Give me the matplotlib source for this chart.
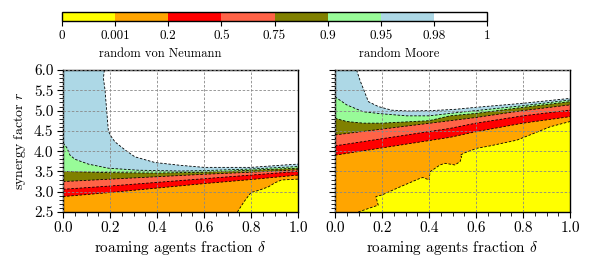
import numpy as np
import matplotlib
matplotlib.use("Agg")
import matplotlib.pyplot as plt
from matplotlib.colors import ListedColormap, BoundaryNorm
from matplotlib.colorbar import ColorbarBase
from matplotlib.ticker import MultipleLocator

plt.rcParams['font.family'] = ['cmr10', 'DejaVu Serif']
plt.rcParams['mathtext.fontset'] = 'cm'
plt.rcParams['axes.formatter.use_mathtext'] = True

# colour levels
levels = [0, 0.001, 0.2, 0.5, 0.75, 0.9, 0.95, 0.98, 1]
level_labels = ['0', '0.001', '0.2', '0.5', '0.75', '0.9', '0.95', '0.98', '1']
colors = ['#ffff00', '#ffa500', '#ff0000', '#ff6347', '#808000', '#98fb98', '#add8e6', '#ffffff']

# random von Neumann: boundaries (delta, r)
vn_d_0001 = [0.742, 0.77, 0.80, 0.831, 0.874, 0.902, 0.93, 1.0]
vn_r_0001 = [2.5, 2.75, 2.98, 3.03, 3.12, 3.22, 3.29, 3.31]
vn_d_02 = [0.0, 0.2, 0.4, 0.6, 0.8, 1.0]
vn_r_02 = [2.88, 2.98, 3.09, 3.20, 3.30, 3.41]
vn_d_05 = [0.0, 0.2, 0.4, 0.6, 0.8, 1.0]
vn_r_05 = [3.06, 3.14, 3.23, 3.32, 3.41, 3.50]
vn_d_075 = [0.0, 0.2, 0.4, 0.6, 0.8, 1.0]
vn_r_075 = [3.25, 3.31, 3.37, 3.43, 3.48, 3.54]
vn_d_09 = [0.0, 0.2, 0.4, 0.6, 0.8, 1.0]
vn_r_09 = [3.50, 3.47, 3.46, 3.48, 3.53, 3.58]
vn_d_095 = [0.0, 0.016, 0.03, 0.051, 0.108, 0.193, 0.32, 0.5, 0.6, 0.8, 1.0]
vn_r_095 = [4.2, 4.09, 3.90, 3.80, 3.68, 3.58, 3.53, 3.51, 3.52, 3.56, 3.62]
vn_d_098 = [0.176, 0.172, 0.179, 0.183, 0.186, 0.193, 0.204, 0.221, 0.264, 0.306, 0.391, 0.5, 0.6, 0.8, 0.945, 1.0]
vn_r_098 = [6.0, 5.8, 5.5, 5.2, 5.0, 4.5, 4.37, 4.23, 4.03, 3.86, 3.72, 3.65, 3.6, 3.6, 3.66, 3.68]

# random Moore: boundaries (delta, r)
mo_d_0001 = [0.099, 0.184, 0.174, 0.2, 0.277, 0.362, 0.374, 0.401, 0.404, 0.447, 0.468, 0.51,
             0.532, 0.539, 0.532, 0.553, 0.603, 0.66, 0.773, 0.83, 0.915, 1.0]
mo_r_0001 = [2.5, 2.67, 2.88, 2.92, 3.12, 3.33, 3.35, 3.29, 3.49, 3.66, 3.70, 3.66,
             3.74, 3.86, 3.90, 3.96, 4.07, 4.13, 4.27, 4.40, 4.60, 4.73]
mo_d_02 = [0.0, 0.489, 0.6, 0.8, 1.0]
mo_r_02 = [3.90, 4.34, 4.48, 4.69, 4.85]
mo_d_05 = [0.0, 0.489, 0.6, 0.8, 1.0]
mo_r_05 = [4.13, 4.56, 4.69, 4.87, 5.01]
mo_d_075 = [0.0, 0.489, 0.6, 0.8, 1.0]
mo_r_075 = [4.40, 4.75, 4.83, 5.0, 5.14]
mo_d_09 = [0.0, 0.05, 0.12, 0.2, 0.4, 0.489, 0.6, 0.8, 1.0]
mo_r_09 = [4.81, 4.73, 4.69, 4.69, 4.75, 4.87, 4.93, 5.08, 5.22]
mo_d_095 = [0.0, 0.05, 0.12, 0.2, 0.305, 0.4, 0.489, 0.6, 0.8, 1.0]
mo_r_095 = [5.34, 5.14, 4.97, 4.92, 4.87, 4.87, 4.93, 5.0, 5.12, 5.26]
mo_d_098 = [0.092, 0.106, 0.128, 0.142, 0.184, 0.241, 0.312, 0.411, 0.51, 0.6, 0.8, 1.0]
mo_r_098 = [6.0, 5.75, 5.43, 5.22, 5.10, 5.01, 4.99, 5.0, 5.03, 5.08, 5.18, 5.30]

vn_bounds = [(vn_d_098, vn_r_098), (vn_d_095, vn_r_095), (vn_d_09, vn_r_09), (vn_d_075, vn_r_075),
             (vn_d_05, vn_r_05), (vn_d_02, vn_r_02), (vn_d_0001, vn_r_0001)]
mo_bounds = [(mo_d_098, mo_r_098), (mo_d_095, mo_r_095), (mo_d_09, mo_r_09), (mo_d_075, mo_r_075),
             (mo_d_05, mo_r_05), (mo_d_02, mo_r_02), (mo_d_0001, mo_r_0001)]

W, H = 592, 270
fig = plt.figure(figsize=(W / 100, H / 100), dpi=100)


def px(x0, y0, x1, y1):
    return [x0 / W, 1 - y1 / H, (x1 - x0) / W, (y1 - y0) / H]


def draw_panel(ax, bounds, show_y):
    rmin, rmax = 2.5, 6.0
    # fill from the top region downwards, each polygon covers everything below its boundary
    for i, (d, r) in enumerate(bounds):
        fill_col = colors[len(colors) - 2 - i]
        xs = [0.0, 0.0] + list(d) + [1.0, 1.0]
        ys = [rmin, r[0]] + list(r) + [r[-1], rmin]
        ax.fill(xs, ys, color=fill_col, lw=0, zorder=1)
    for d, r in bounds:
        ax.plot(d, r, color='k', lw=0.6, ls=(0, (3, 2)), zorder=2)
    ax.set_xlim(0, 1)
    ax.set_ylim(rmin, rmax)
    ax.set_axisbelow(False)
    ax.grid(True, color='#888888', ls=(0, (3, 2)), lw=0.6)
    ax.xaxis.set_major_locator(MultipleLocator(0.2))
    ax.xaxis.set_minor_locator(MultipleLocator(0.05))
    ax.yaxis.set_major_locator(MultipleLocator(0.5))
    ax.yaxis.set_minor_locator(MultipleLocator(0.1))
    ax.xaxis.set_major_formatter(lambda v, p: f'{v:.1f}')
    ax.yaxis.set_major_formatter(lambda v, p: f'{v:.1f}')
    ax.tick_params(which='major', direction='out', length=4.3, width=0.8, labelsize=11, pad=2.5)
    ax.tick_params(which='minor', direction='out', length=2.9, width=0.6)
    for s in ax.spines.values():
        s.set_linewidth(1.0)
    ax.set_xlabel(r'roaming agents fraction $\delta$', fontsize=11, labelpad=3)
    if show_y:
        ax.set_ylabel(r'synergy factor $r$', fontsize=10, labelpad=4)
    else:
        ax.tick_params(labelleft=False)


ax1 = fig.add_axes(px(63, 70, 298, 212))
draw_panel(ax1, vn_bounds, True)
ax2 = fig.add_axes(px(335, 70, 570, 212))
draw_panel(ax2, mo_bounds, False)

# colour bar on top
cax = fig.add_axes(px(62, 12, 487, 21))
cmap = ListedColormap(colors)
norm = BoundaryNorm(levels, cmap.N)
cb = ColorbarBase(cax, cmap=cmap, norm=norm, orientation='horizontal',
                  boundaries=levels, ticks=levels, spacing='uniform')
cb.set_ticklabels(level_labels)
cb.outline.set_linewidth(1.0)
cax.tick_params(direction='out', length=3.5, width=0.8, labelsize=9.5, pad=3)

fig.text(160 / W, 1 - 54 / H, 'random von Neumann', ha='center', va='center', fontsize=9)
fig.text(399 / W, 1 - 54 / H, 'random Moore', ha='center', va='center', fontsize=9)

fig.savefig('out.png', dpi=100)
